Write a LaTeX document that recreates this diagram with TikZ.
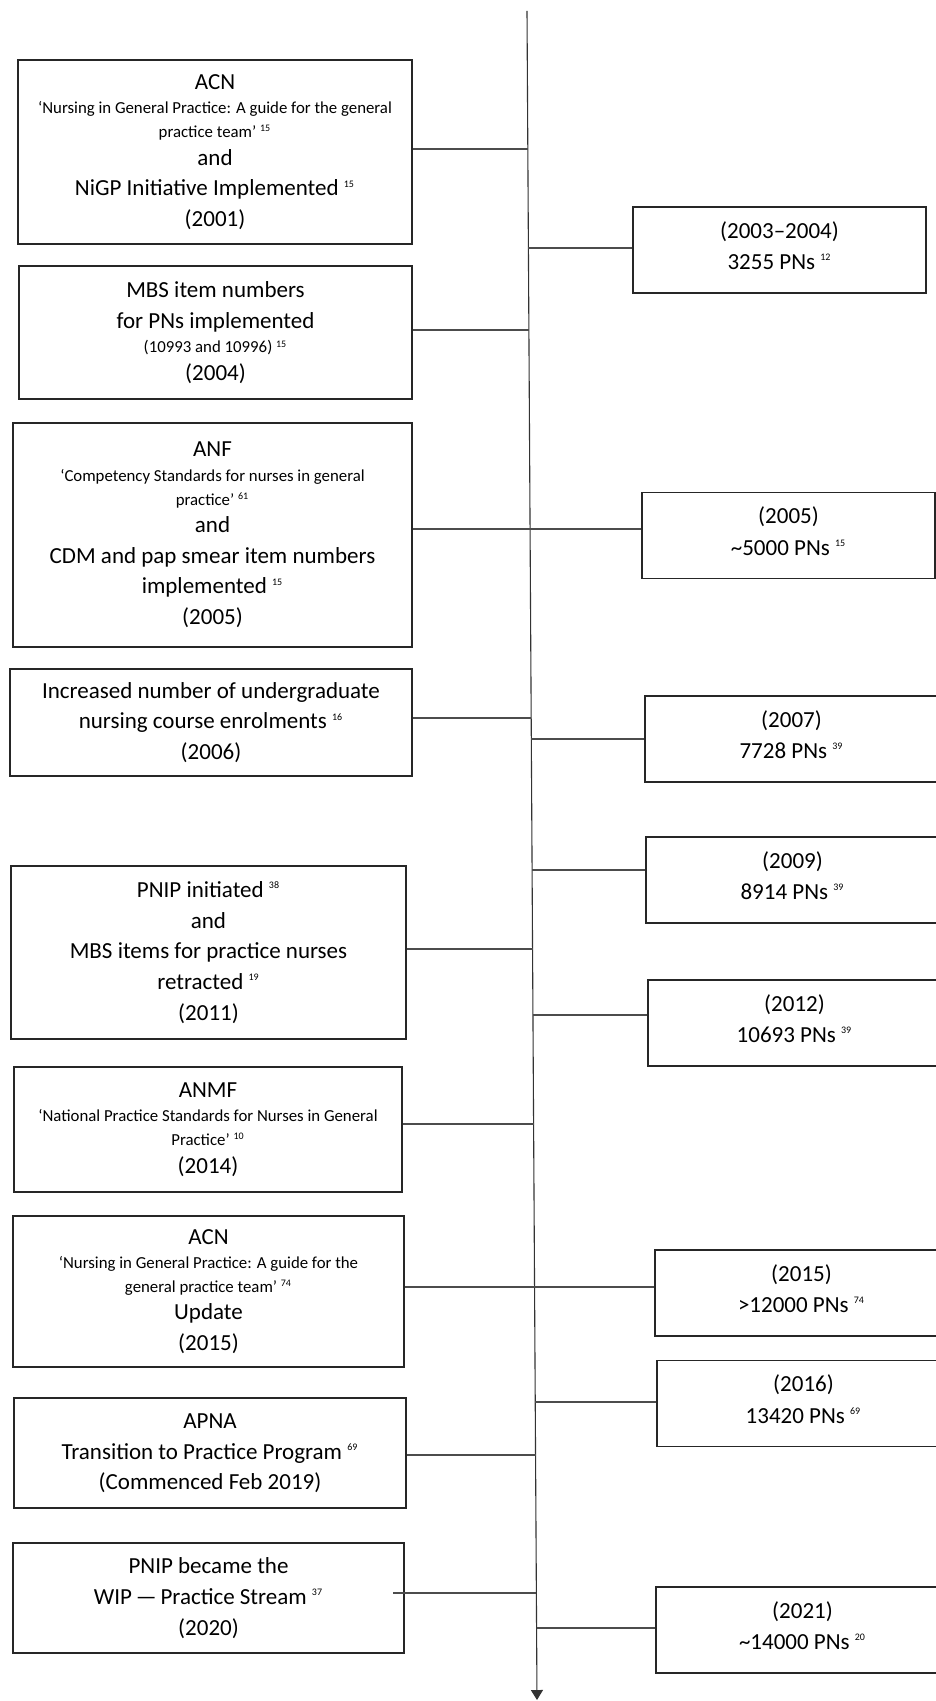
\documentclass[tikz,border=0pt]{standalone}
\usepackage{fontspec}
\setmainfont{Carlito}
\usetikzlibrary{positioning,arrows.meta}
\tikzset{>={Triangle[width=6pt,length=5pt]}}
\newcommand{\refn}[1]{\textsuperscript{\fontsize{5}{5}\selectfont #1}}
\newcommand{\sm}{\fontsize{8.4}{10}\selectfont}
\tikzset{
  evbox/.style={draw=black!85, line width=0.8pt, align=center, inner sep=0pt, font=\fontsize{11.5}{15.3}\selectfont},
  pnbox/.style={draw=black!85, line width=0.8pt, align=center, inner sep=0pt, minimum width=146.5pt, minimum height=43pt, text depth=4.5pt, font=\fontsize{11.5}{15.6}\selectfont},
  link/.style={draw=black!70, line width=0.55pt}
}

\begin{document}
\begin{tikzpicture}[x=0.5pt,y=-0.5pt]
      \useasboundingbox (0,0) rectangle (936,1701);
      % timeline
      \coordinate (top) at (527,11);
      \coordinate (bot) at (537,1700);
      \draw[link,->,draw=black!80] (top) -- (bot);
      \coordinate (aux1) at (527.8,149);
      \coordinate (aux2) at (528.4,248);
      \coordinate (aux3) at (528.9,330);
      \coordinate (aux4) at (530.1,529);
      \coordinate (aux5) at (531.2,718);
      \coordinate (aux6) at (531.3,739);
      \coordinate (aux7) at (532.1,870);
      \coordinate (aux8) at (532.6,949);
      \coordinate (aux9) at (533.0,1015);
      \coordinate (aux10) at (533.6,1124);
      \coordinate (aux11) at (534.6,1287);
      \coordinate (aux12) at (535.2,1402);
      \coordinate (aux13) at (535.5,1455);
      \coordinate (aux14) at (536.4,1593);
      \coordinate (aux15) at (536.6,1628);
      \coordinate (aux16) at (393,1593);
      % left: events
      \node[evbox, minimum width=197pt, minimum height=92pt] (n1) at (215,152) {ACN\\[-3pt] {\sm `Nursing in General Practice: A guide for the general}\\[-3.5pt] {\sm practice team' \refn{15}}\\[-1.5pt] and\\ NiGP Initiative Implemented \refn{15}\\ (2001)};
      \node[evbox, minimum width=196.5pt, minimum height=66.5pt] (n2) at (215.5,332.5) {MBS item numbers\\ for PNs implemented\\[-3pt] {\sm (10993 and 10996) \refn{15}}\\[-1.5pt] (2004)};
      \node[evbox, minimum width=199.5pt, minimum height=112pt] (n3) at (212.5,535) {ANF\\[-3pt] {\sm `Competency Standards for nurses in general}\\[-3.5pt] {\sm practice' \refn{61}}\\[-1.5pt] and\\ CDM and pap smear item numbers\\ implemented \refn{15}\\ (2005)};
      \node[evbox, minimum width=201pt, minimum height=53.5pt] (n4) at (211,722.5) {Increased number of undergraduate\\ nursing course enrolments \refn{16}\\ (2006)};
      \node[evbox, minimum width=197.5pt, minimum height=86.5pt] (n5) at (208.5,952.5) {PNIP initiated \refn{38}\\ and\\ MBS items for practice nurses\\ retracted \refn{19}\\ (2011)};
      \node[evbox, minimum width=194pt, minimum height=62.5pt] (n6) at (208,1129.5) {ANMF\\[-3pt] {\sm `National Practice Standards for Nurses in General}\\[-3.5pt] {\sm Practice' \refn{10}}\\[-1.5pt] (2014)};
      \node[evbox, minimum width=195.5pt, minimum height=75.5pt] (n7) at (208.5,1291.5) {ACN\\[-3pt] {\sm `Nursing in General Practice: A guide for the}\\[-3.5pt] {\sm general practice team' \refn{74}}\\[-1.5pt] Update\\ (2015)};
      \node[evbox, minimum width=196pt, minimum height=55pt, text depth=1pt] (n8) at (210,1453) {APNA\\ Transition to Practice Program \refn{69}\\ (Commenced Feb 2019)};
      \node[evbox, minimum width=195.5pt, minimum height=55pt] (n9) at (208.5,1598) {PNIP became the\\ WIP\,---\,Practice Stream \refn{37}\\ (2020)};
      % right: PN counts
      \node[pnbox] (p1) at (779.5,250) {(2003--2004)\\ 3255 PNs \refn{12}};
      \node[pnbox] (p2) at (788.5,535.5) {(2005)\\ \textasciitilde5000 PNs \refn{15}};
      \node[pnbox] (p3) at (791.5,739) {(2007)\\ 7728 PNs \refn{39}};
      \node[pnbox] (p4) at (792.5,880) {(2009)\\ 8914 PNs \refn{39}};
      \node[pnbox] (p5) at (794.5,1023) {(2012)\\ 10693 PNs \refn{39}};
      \node[pnbox] (p6) at (801.5,1293) {(2015)\\ >12000 PNs \refn{74}};
      \node[pnbox] (p7) at (803.5,1403.5) {(2016)\\ 13420 PNs \refn{69}};
      \node[pnbox] (p8) at (802.5,1630) {(2021)\\ \textasciitilde14000 PNs \refn{20}};
      % connectors
      \draw[link] (n1.east |- aux1) -- (aux1);
      \draw[link] (aux2) -- (p1.west |- aux2);
      \draw[link] (n2.east |- aux3) -- (aux3);
      \draw[link] (n3.east |- aux4) -- (p2.west |- aux4);
      \draw[link] (n4.east |- aux5) -- (aux5);
      \draw[link] (aux6) -- (p3.west |- aux6);
      \draw[link] (aux7) -- (p4.west |- aux7);
      \draw[link] (n5.east |- aux8) -- (aux8);
      \draw[link] (aux9) -- (p5.west |- aux9);
      \draw[link] (n6.east |- aux10) -- (aux10);
      \draw[link] (n7.east |- aux11) -- (p6.west |- aux11);
      \draw[link] (aux12) -- (p7.west |- aux12);
      \draw[link] (n8.east |- aux13) -- (aux13);
      \draw[link] (aux16) -- (aux14);
      \draw[link] (aux15) -- (p8.west |- aux15);
\end{tikzpicture}
\end{document}
